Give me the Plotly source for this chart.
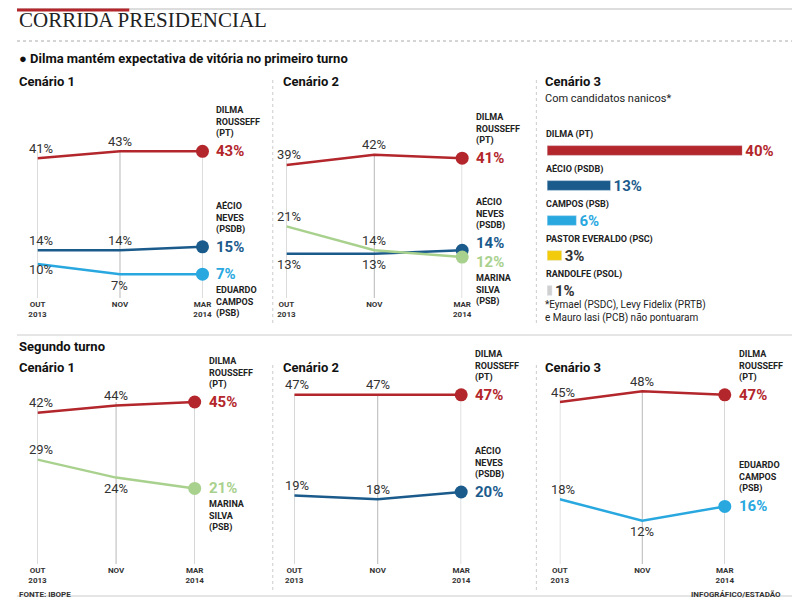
import plotly.graph_objects as go

months = ["OUT<br>2013", "NOV", "MAR<br>2014"]
RED, DBLUE, LBLUE, GREEN, YEL, GRAY = "#b3262b", "#1b5b8c", "#29a8e0", "#a9d18e", "#f2cc0c", "#cfcfcf"

# first round
p1c1_dilma = [41, 43, 43]; p1c1_aecio = [14, 14, 15]; p1c1_campos = [10, 7, 7]
p1c2_dilma = [39, 42, 41]; p1c2_aecio = [13, 13, 14]; p1c2_marina = [21, 14, 12]
bar_names = ["DILMA (PT)", "AÉCIO (PSDB)", "CAMPOS (PSB)", "PASTOR EVERALDO (PSC)", "RANDOLFE (PSOL)"]
bar_vals = [40, 13, 6, 3, 1]
bar_colors = [RED, DBLUE, LBLUE, YEL, GRAY]
# second round
p2c1_dilma = [42, 44, 45]; p2c1_marina = [29, 24, 21]
p2c2_dilma = [47, 47, 47]; p2c2_aecio = [19, 18, 20]
p2c3_dilma = [45, 48, 47]; p2c3_campos = [18, 12, 16]

W, H = 800, 600
def px(x): return x / W
def py(y): return 1 - y / H

fig = go.Figure()
ann = []
shapes = []
FONT = "Roboto"

panels = [
    (1, 21, 190, 290, 128, 47.5, [
        (p1c1_dilma, RED, "DILMA<br>ROUSSEFF<br>(PT)", "above", ["up", "up"], 0),
        (p1c1_aecio, DBLUE, "AÉCIO<br>NEVES<br>(PSDB)", "above", ["up", "up"], 0),
        (p1c1_campos, LBLUE, "EDUARDO<br>CAMPOS<br>(PSB)", "below", ["mid", "down"], 0)]),
    (2, 276, 456, 290, 128, 47.5, [
        (p1c2_dilma, RED, "DILMA<br>ROUSSEFF<br>(PT)", "above", ["up", "up"], 0),
        (p1c2_aecio, DBLUE, "AÉCIO<br>NEVES<br>(PSDB)", "above", ["down", "down"], 7),
        (p1c2_marina, GREEN, "MARINA<br>SILVA<br>(PSB)", "below", ["up", "up"], -5)]),
    (3, 21, 182, 556, 376, 50, [
        (p2c1_dilma, RED, "DILMA<br>ROUSSEFF<br>(PT)", "above", ["up", "up"], 0),
        (p2c1_marina, GREEN, "MARINA<br>SILVA<br>(PSB)", "below", ["up", "down"], 0)]),
    (4, 284, 455, 556, 376, 50, [
        (p2c2_dilma, RED, "DILMA<br>ROUSSEFF<br>(PT)", "above", ["up", "up"], 0),
        (p2c2_aecio, DBLUE, "AÉCIO<br>NEVES<br>(PSDB)", "above", ["up", "up"], 0)]),
    (5, 556, 725, 556, 376, 50, [
        (p2c3_dilma, RED, "DILMA<br>ROUSSEFF<br>(PT)", "above", ["up", "up"], 0),
        (p2c3_campos, LBLUE, "EDUARDO<br>CAMPOS<br>(PSB)", "above", ["up", "down"], 0)]),
]

for i, x0, x1, yb, yt, yr, series in panels:
    xa = "x" if i == 1 else f"x{i}"
    ya = "y" if i == 1 else f"y{i}"
    fig.update_layout(**{
        ("xaxis" if i == 1 else f"xaxis{i}"): dict(
            domain=[px(x0), px(x1)], range=[0, 2], anchor=ya, tickvals=[0, 1, 2], ticktext=months,
            showgrid=False, zeroline=False, showline=False,
            tickfont=dict(family=FONT, size=8, color="#333", weight="bold"), ticks="", ticklabelstandoff=0,
            fixedrange=True),
        ("yaxis" if i == 1 else f"yaxis{i}"): dict(
            domain=[py(yb), py(yt)], range=[0, yr], anchor=xa, visible=False, showgrid=False),
    })
    top = max(max(s[0]) for s in series)
    for k in range(3):
        shapes.append(dict(type="line", xref=xa, yref=ya, x0=k, x1=k, y0=0, y1=top,
                           line=dict(color="#b8b8b8", width=1), layer="below"))
    for vals, col, name, pos, lbl, vshift in series:
        fig.add_trace(go.Scatter(x=[0, 1, 2], y=vals, xaxis=xa, yaxis=ya, mode="lines",
                                 line=dict(color=col, width=2.5), showlegend=False, cliponaxis=False))
        fig.add_trace(go.Scatter(x=[2], y=[vals[2]], xaxis=xa, yaxis=ya, mode="markers",
                                 marker=dict(color=col, size=13), showlegend=False, cliponaxis=False))
        for k in range(2):
            ys = {"up": 10, "down": -11, "mid": -6}[lbl[k]]
            ann.append(dict(x=k, y=vals[k], xref=xa, yref=ya, text=f"{vals[k]}%", showarrow=False,
                            yshift=ys, xshift=3 if k == 0 else 0,
                            font=dict(family=FONT, size=13, color="#333")))
        ann.append(dict(x=2, y=vals[2], xref=xa, yref=ya, text=f"{vals[2]}%", showarrow=False,
                        xanchor="left", xshift=12, yshift=vshift,
                        font=dict(family=FONT, size=15, color=col, weight="bold")))
        ann.append(dict(x=2, y=vals[2], xref=xa, yref=ya, text=name, showarrow=False, xanchor="left",
                        yanchor="bottom" if pos == "above" else "top",
                        yshift=(10 if pos == "above" else -9) + vshift,
                        xshift=12, align="left", font=dict(family=FONT, size=9, color="#222", weight="bold")))

# bar chart
fig.update_layout(xaxis6=dict(domain=[px(543), px(743)], range=[0, 40], anchor="y6", visible=False),
                  yaxis6=dict(domain=[py(300), py(125)], range=[4.5, -0.5], anchor="x6", visible=False))
fig.add_trace(go.Bar(x=bar_vals, y=list(range(5)), orientation="h", xaxis="x6", yaxis="y6",
                     marker=dict(color=bar_colors), width=0.28, showlegend=False,
                     text=[f"{v}%" for v in bar_vals], textposition="outside", cliponaxis=False,
                     constraintext="none",
                     textfont=dict(family=FONT, size=15, weight="bold",
                                   color=[RED, DBLUE, LBLUE, "#333", "#333"])))
for k, n in enumerate(bar_names):
    ann.append(dict(x=0, y=k, xref="x6", yref="y6", text=n, showarrow=False, xanchor="left",
                    yanchor="bottom", yshift=9, xshift=-3,
                    font=dict(family=FONT, size=9, color="#222", weight="bold")))

def T(x, y, text, size=12, color="#111", bold=True, xanchor="left", family=FONT):
    ann.append(dict(x=px(x), y=py(y - 7), xref="paper", yref="paper", text=text, showarrow=False,
                    xanchor=xanchor, yanchor="middle", align="left",
                    font=dict(family=family, size=size, color=color, weight="bold" if bold else "normal")))

T(0, 19, "CORRIDA PRESIDENCIAL", 21, "#222", False, family="Liberation Serif")
T(0, 58, "● Dilma mantém expectativa de vitória no primeiro turno", 13)
T(0, 80, "Cenário 1", 13); T(270, 80, "Cenário 2", 13); T(539, 80, "Cenário 3", 13)
T(539, 97, "Com candidatos nanicos*", 11, "#222", False)
T(539, 310, "*Eymael (PSDC), Levy Fidelix (PRTB)<br>e Mauro Iasi (PCB) não pontuaram", 10, "#222", False)
T(0, 345, "Segundo turno", 13)
T(0, 366, "Cenário 1", 13); T(270, 366, "Cenário 2", 13); T(539, 366, "Cenário 3", 13)
T(0, 593, "FONTE: IBOPE", 8, "#333")
T(785, 593, "INFOGRÁFICO/ESTADÃO", 8, "#333", xanchor="right")

shapes += [
    dict(type="line", xref="paper", yref="paper", x0=0, x1=1, y0=py(1), y1=py(1), line=dict(color="#bbb", width=1)),
    dict(type="line", xref="paper", yref="paper", x0=0, x1=px(115), y0=py(2), y1=py(2), line=dict(color=RED, width=3)),
    dict(type="line", xref="paper", yref="paper", x0=0, x1=1, y0=py(33), y1=py(33), line=dict(color="#aaa", width=1, dash="dot")),
    dict(type="line", xref="paper", yref="paper", x0=0, x1=1, y0=py(327), y1=py(327), line=dict(color="#ccc", width=1)),
    dict(type="line", xref="paper", yref="paper", x0=px(262), x1=px(262), y0=py(72), y1=py(318), line=dict(color="#ccc", width=1, dash="dot")),
    dict(type="line", xref="paper", yref="paper", x0=px(532), x1=px(532), y0=py(72), y1=py(318), line=dict(color="#ccc", width=1, dash="dot")),
    dict(type="line", xref="paper", yref="paper", x0=px(262), x1=px(262), y0=py(357), y1=py(585), line=dict(color="#ccc", width=1, dash="dot")),
    dict(type="line", xref="paper", yref="paper", x0=px(532), x1=px(532), y0=py(357), y1=py(585), line=dict(color="#ccc", width=1, dash="dot")),
    dict(type="line", xref="paper", yref="paper", x0=0, x1=1, y0=py(588), y1=py(588), line=dict(color="#ccc", width=1)),
]

fig.update_layout(width=W, height=H, margin=dict(l=0, r=0, t=0, b=0), paper_bgcolor="white",
                  plot_bgcolor="rgba(0,0,0,0)", annotations=ann, shapes=shapes, showlegend=False)
fig.write_html("out.html")
